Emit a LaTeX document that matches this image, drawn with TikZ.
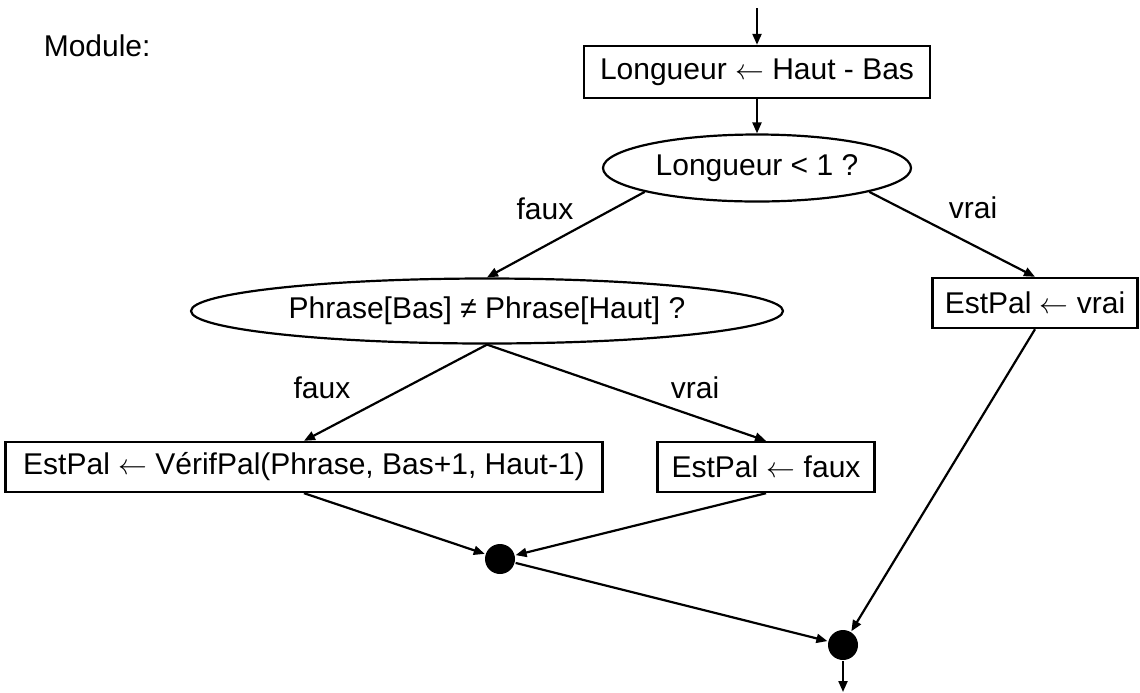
\documentclass[tikz,border=0pt]{standalone}
\usepackage{fontspec}
\setmainfont{Liberation Sans}
\usetikzlibrary{arrows.meta,shapes.geometric}

\begin{document}
\begin{tikzpicture}[
x=0.5pt, y=-0.5pt,
font=\fontsize{15}{18}\selectfont,
line width=1.1pt,
>={Triangle[length=5.5pt,width=4.5pt]},
boxnode/.style={rectangle, draw, line width=1.2pt, inner sep=0pt, minimum height=25pt},
ovalnode/.style={ellipse, draw, line width=1.1pt, inner sep=0pt},
dotnode/.style={circle, fill=black, inner sep=0pt, minimum size=15pt},
]
\useasboundingbox (0,0) rectangle (1140,692);
%Nodes
\node[anchor=west]  (mod) at (36,46)   {Module:};
\coordinate         (top) at (757,8);
\node[boxnode, minimum width=173pt, minimum height=26pt] (b1) at (757,72) {Longueur $\leftarrow$ Haut - Bas};
\node[ovalnode, minimum width=154pt, minimum height=33.5pt] (e1) at (757,168) {Longueur < 1 ?};
\node[ovalnode, minimum width=296pt, minimum height=32.5pt] (e2) at (487,311) {Phrase[Bas] ≠ Phrase[Haut] ?};
\node[boxnode, minimum width=102.5pt] (ev) at (1035,303) {EstPal $\leftarrow$ vrai};
\node[boxnode, minimum width=298.5pt] (vp) at (304,467) {EstPal $\leftarrow$ VérifPal(Phrase, Bas+1, Haut-1)};
\node[boxnode, minimum width=108.5pt] (ef) at (766,467) {EstPal $\leftarrow$ faux};
\node[dotnode]      (d1)  at (500,559) {};
\node[dotnode]      (d2)  at (843,645) {};
\coordinate         (end) at (843,692);

%Labels
\node (lf1) at (545,209) {faux};
\node (lv1) at (973,208) {vrai};
\node (lf2) at (322,388) {faux};
\node (lv2) at (695,388) {vrai};

%Lines
\draw[->] (top) -- (b1.north);
\draw[->] (b1.south) -- (e1.north);
\draw[->] (e1.192) -- (e2.north);
\draw[->] (e1.348) -- (ev.north);
\draw[->] (e2.south) -- (vp.north);
\draw[->] (e2.south) -- (ef.north);
\draw[->] (vp.south) -- (d1);
\draw[->] (ef.south) -- (d1);
\draw[->] (ev.south) -- (d2);
\draw[->] (d1) -- (d2);
\draw[->] (d2) -- (end);

\end{tikzpicture}
\end{document}
